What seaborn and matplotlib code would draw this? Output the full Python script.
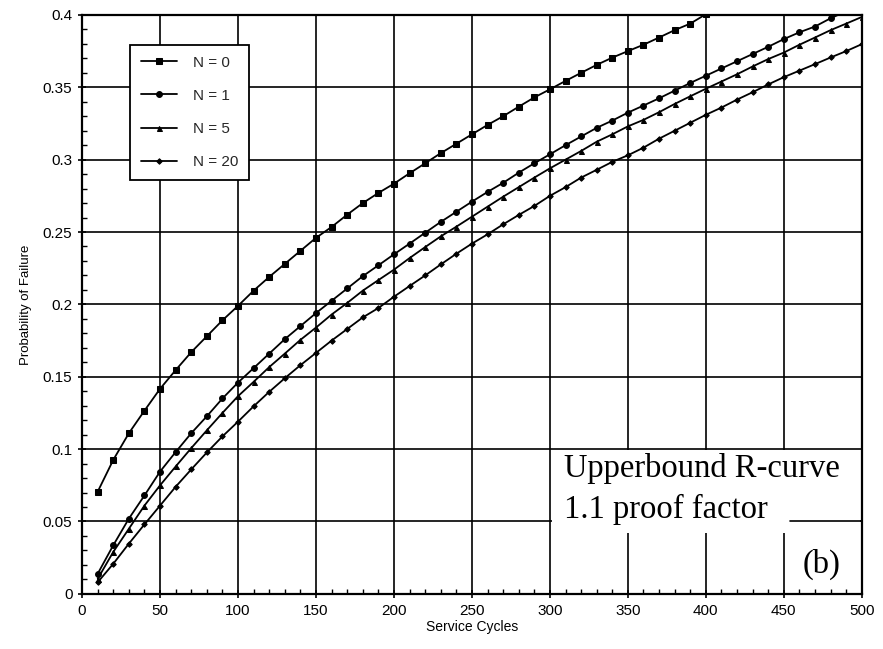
import matplotlib
matplotlib.use("Agg")
import matplotlib.pyplot as plt
from matplotlib.patches import Rectangle
from matplotlib.ticker import MultipleLocator
import seaborn as sns
import pandas as pd

# ---------------- data ----------------
cycles = [10, 20, 30, 40, 50, 60, 70, 80, 90, 100,
          110, 120, 130, 140, 150, 160, 170, 180, 190, 200,
          210, 220, 230, 240, 250, 260, 270, 280, 290, 300,
          310, 320, 330, 340, 350, 360, 370, 380, 390, 400,
          410, 420, 430, 440, 450, 460, 470, 480, 490, 500]

n0 = [0.0706, 0.0926, 0.111, 0.1266, 0.1417, 0.1546, 0.167, 0.178, 0.189, 0.199,
      0.2095, 0.219, 0.228, 0.237, 0.246, 0.2535, 0.262, 0.270, 0.277, 0.2834,
      0.2906, 0.2975, 0.3045, 0.311, 0.3175, 0.324, 0.330, 0.3366, 0.343, 0.3486,
      0.3544, 0.360, 0.3655, 0.3705, 0.375, 0.3794, 0.3844, 0.3895, 0.394, 0.4005]

n1 = [0.0139, 0.0336, 0.052, 0.068, 0.0845, 0.098, 0.111, 0.1227, 0.135, 0.146,
      0.156, 0.166, 0.176, 0.185, 0.194, 0.2025, 0.211, 0.2195, 0.227, 0.2346,
      0.242, 0.2495, 0.257, 0.264, 0.271, 0.2777, 0.284, 0.291, 0.2975, 0.3037,
      0.310, 0.316, 0.322, 0.327, 0.3325, 0.3374, 0.3424, 0.3477, 0.353, 0.358,
      0.363, 0.368, 0.373, 0.378, 0.3833, 0.388, 0.392, 0.3977, 0.4025]

n5 = [0.0104, 0.029, 0.045, 0.061, 0.075, 0.088, 0.1007, 0.113, 0.125, 0.1366,
      0.1465, 0.1567, 0.166, 0.1755, 0.184, 0.193, 0.201, 0.2095, 0.2168, 0.224,
      0.232, 0.2396, 0.247, 0.2537, 0.2606, 0.2675, 0.2744, 0.281, 0.2876, 0.294,
      0.300, 0.306, 0.3124, 0.3175, 0.323, 0.3275, 0.3328, 0.3385, 0.3438, 0.349,
      0.354, 0.359, 0.3644, 0.3695, 0.374, 0.3794, 0.3844, 0.3895, 0.394, 0.3986]

n20 = [0.008, 0.0208, 0.0347, 0.048, 0.061, 0.074, 0.086, 0.0977, 0.1088, 0.119,
       0.1296, 0.1396, 0.149, 0.158, 0.1665, 0.175, 0.183, 0.191, 0.1975, 0.2053,
       0.2127, 0.220, 0.2276, 0.235, 0.242, 0.2484, 0.2553, 0.2618, 0.268, 0.275,
       0.281, 0.2876, 0.293, 0.2985, 0.303, 0.3083, 0.3145, 0.320, 0.3255, 0.331,
       0.336, 0.3415, 0.3466, 0.352, 0.357, 0.3615, 0.366, 0.3706, 0.375, 0.3798]

series_labels = ["N = 0", "N = 1", "N = 5", "N = 20"]
x_ticks = [0, 50, 100, 150, 200, 250, 300, 350, 400, 450, 500]
y_ticks = [0, 0.05, 0.1, 0.15, 0.2, 0.25, 0.3, 0.35, 0.4]
y_tick_labels = ["0", "0.05", "0.1", "0.15", "0.2", "0.25", "0.3", "0.35", "0.4"]
note_lines = ["Upperbound R-curve", "1.1 proof factor"]
panel_tag = "(b)"

# ---------------- style ----------------
sns.set_theme(style="white")
plt.rcParams["font.family"] = ["Liberation Sans", "DejaVu Sans"]

fig = plt.figure(figsize=(8.83, 6.49), dpi=100)
ax = fig.add_axes([0.093, 0.085, 0.883, 0.892])

styles = [("s", 4.6), ("o", 4.2), ("^", 3.6), ("D", 2.8)]
for vals, lab, (mk, ms) in zip([n0, n1, n5, n20], series_labels, styles):
    df = pd.DataFrame({"cycles": cycles[:len(vals)], "pf": vals})
    sns.lineplot(data=df, x="cycles", y="pf", ax=ax, color="black",
                 marker=mk, markersize=ms, markeredgecolor="black",
                 markerfacecolor="black", linewidth=1.3, label=lab,
                 zorder=3)

ax.set_xlim(0, 500)
ax.set_ylim(0, 0.4)
ax.set_xticks(x_ticks)
ax.set_xticklabels([str(t) for t in x_ticks])
ax.set_yticks(y_ticks)
ax.set_yticklabels(y_tick_labels)
ax.xaxis.set_minor_locator(MultipleLocator(10))
ax.yaxis.set_minor_locator(MultipleLocator(0.01))

ax.grid(True, which="major", color="black", linewidth=1.2)
ax.set_axisbelow(True)
for sp in ax.spines.values():
    sp.set_color("black")
    sp.set_linewidth(1.6)

ax.tick_params(axis="both", which="major", direction="inout", length=6,
               width=1.2, color="black", labelsize=11, labelcolor="black", pad=4)
ax.tick_params(axis="both", which="minor", direction="in", length=3.5,
               width=1.0, color="black")
ax.tick_params(bottom=True, left=True, top=False, right=False, which="both")

ax.set_xlabel("Service Cycles", fontsize=10, color="black", labelpad=2)
ax.set_ylabel("Probability of Failure", fontsize=9.5, color="black", labelpad=8)

# white panel behind the annotation
ax.add_patch(Rectangle((301.5, 0.042), 197.5, 0.0575, facecolor="white",
                       edgecolor="none", zorder=1.5))
ax.plot([454, 500], [0.05, 0.05], color="black", linewidth=1.2, zorder=1.6)

ax.text(309, 0.0805, note_lines[0], fontsize=23.5, family="Liberation Serif",
        color="black", zorder=4)
ax.text(309, 0.0525, note_lines[1], fontsize=23.5, family="Liberation Serif",
        color="black", zorder=4)
ax.text(462, 0.0145, panel_tag, fontsize=23.5, family="Liberation Serif",
        color="black", zorder=4)

leg = ax.legend(loc="upper left", bbox_to_anchor=(0.0615, 0.948),
                borderaxespad=0, frameon=True, fancybox=False,
                edgecolor="black", framealpha=1, fontsize=11,
                handlelength=2.4, handletextpad=1.0, labelspacing=1.25,
                borderpad=0.7, numpoints=1)
leg.get_frame().set_linewidth(1.3)
leg.set_zorder(5)

fig.savefig("out.png", dpi=100)
